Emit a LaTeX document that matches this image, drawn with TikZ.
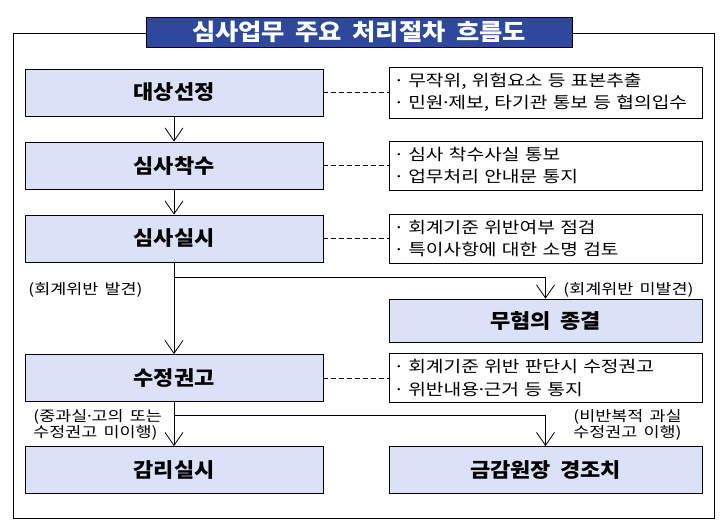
\documentclass[tikz,border=0pt]{standalone}
\usepackage{fontspec}
\setmainfont[WordSpace=1.8]{Noto Sans CJK KR}
\newfontfamily\headfont[FakeStretch=1.1,WordSpace=1.8]{Noto Sans CJK KR}
\newfontfamily\notefont[FakeStretch=1.2,WordSpace=1.6]{Noto Sans CJK KR}
\newcommand{\lead}{\makebox[0.5em]{·}}
\newcommand{\mdot}{\makebox[0.3em]{·}}
\usetikzlibrary{
        arrows.meta,
        positioning
    }
\definecolor{titleblue}{RGB}{46,73,155}
\definecolor{stepfill}{RGB}{219,225,246}
\tikzset{>={Straight Barb[length=13pt,width=18pt]},shorten >=0pt}
\tikzset{
    stepbox/.style={draw,fill=stepfill,minimum width=298pt,minimum height=47pt,
        inner sep=0pt,font=\headfont\bfseries\fontsize{20}{24}\selectfont},
    notebox/.style={draw,fill=white,minimum width=313pt,minimum height=47pt,
        inner sep=6pt,text width=301pt,align=left,font=\notefont\fontsize{16}{22.5}\selectfont},
    titlebox/.style={draw,fill=titleblue,text=white,minimum width=426pt,minimum height=30pt,
        inner sep=0pt,font=\headfont\bfseries\fontsize{23}{26}\selectfont},
    casetext/.style={inner sep=0pt,align=left,anchor=west,font=\notefont\fontsize{14.5}{15.5}\selectfont},
    dashline/.style={dash pattern=on 5pt off 3pt}
}

\begin{document}
\begin{tikzpicture}[x=1pt,y=-1pt,line width=0.8pt]
            \useasboundingbox (0,0) rectangle (725,530);
            % frame and heading
            \draw (13,33) rectangle (714,518);
            \node[titlebox] (title) at (359,32) {심사업무 주요 처리절차 흐름도};
            % left column
            \node[stepbox] (select) at (174,92.5)  {대상선정};
            \node[stepbox] (start)  at (174,165.5) {심사착수};
            \node[stepbox] (exam)   at (174,238.5) {심사실시};
            \node[stepbox] (advise) at (174,378)   {수정권고};
            \node[stepbox] (audit)  at (174,470)   {감리실시};
            % right column
            \node[notebox] (selectnote) at (545.5,92.5)
                {\lead{} 무작위, 위험요소 등 표본추출\\\lead{} 민원\mdot{}제보, 타기관 통보 등 협의입수};
            \node[notebox] (startnote) at (545.5,165.5)
                {\lead{} 심사 착수사실 통보\\\lead{} 업무처리 안내문 통지};
            \node[notebox] (examnote) at (545.5,238.5)
                {\lead{} 회계기준 위반여부 점검\\\lead{} 특이사항에 대한 소명 검토};
            \node[stepbox,minimum width=313pt,minimum height=43pt] (close) at (545.5,320.5) {무혐의 종결};
            \node[notebox] (advisenote) at (545.5,378)
                {\lead{} 회계기준 위반 판단시 수정권고\\\lead{} 위반내용\mdot{}근거 등 통지};
            \node[stepbox,minimum width=313pt] (warn) at (545.5,470) {금감원장 경조치};
            % case labels
            \node[casetext] (found)    at (28,290)  {(회계위반 발견)};
            \node[casetext] (notfound) at (563,290) {(회계위반 미발견)};
            \node[casetext] (severe)   at (33,425)  {(중과실\mdot{}고의 또는\\수정권고 미이행)};
            \node[casetext] (minor)    at (573,425) {(비반복적 과실\\수정권고 이행)};
            \coordinate (split1) at (174,277);
            \coordinate (split2) at (174,415);
            \path[->]
                (select) edge (start)
                (start)  edge (exam)
                (exam)   edge (advise)
                (advise) edge (audit)
            ;
            \draw[->] (split1) -| (close);
            \draw[->] (split2) -| (warn);
            \path[dashline]
                (select) edge (selectnote)
                (start)  edge (startnote)
                (exam)   edge (examnote)
                (advise) edge (advisenote)
            ;
        \end{tikzpicture}
\end{document}
